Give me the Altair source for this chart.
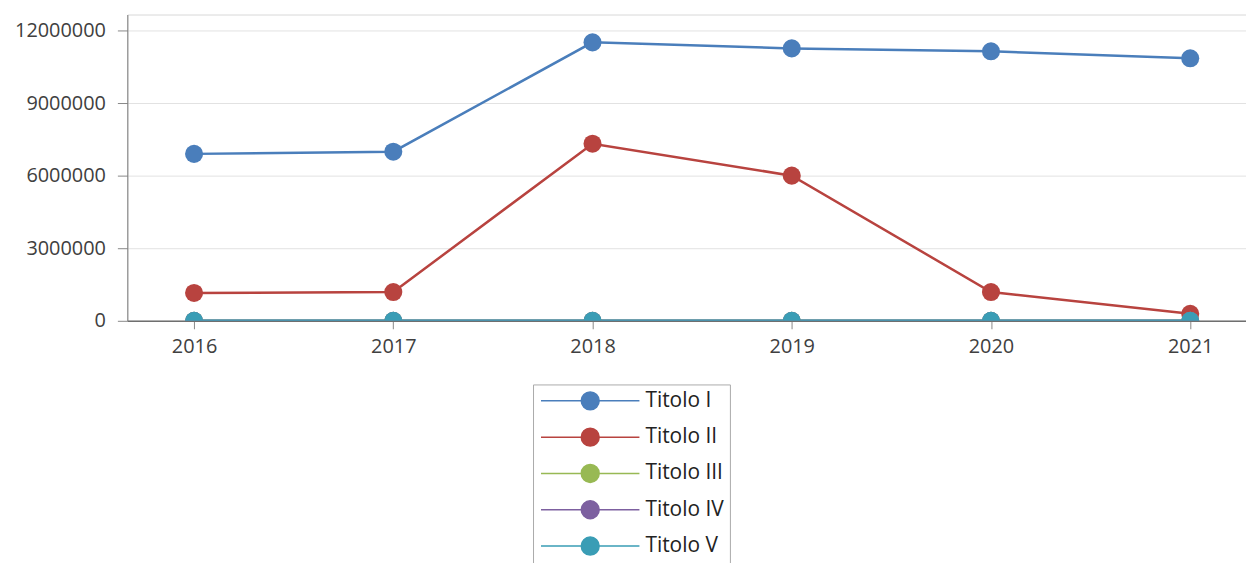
import altair as alt
import pandas as pd

years = [2016, 2017, 2018, 2019, 2020, 2021]
series = ["Titolo I", "Titolo II", "Titolo III", "Titolo IV", "Titolo V"]
titolo_1 = [6900000, 6990000, 11510000, 11260000, 11140000, 10850000]
titolo_2 = [1150000, 1190000, 7320000, 6000000, 1190000, 290000]
titolo_3 = [0, 0, 0, 0, 0, 0]
titolo_4 = [0, 0, 0, 0, 0, 0]
titolo_5 = [0, 0, 0, 0, 0, 0]
colors = ["#4a7ebb", "#b8433f", "#98b954", "#7d60a0", "#3a9db5"]
y_ticks = [0, 3000000, 6000000, 9000000, 12000000]

rows = []
for name, vals in zip(series, [titolo_1, titolo_2, titolo_3, titolo_4, titolo_5]):
    for yr, v in zip(years, vals):
        rows.append({"Anno": yr, "Serie": name, "Valore": v, "ord": series.index(name)})
df = pd.DataFrame(rows)

FONT = "Open Sans"
legend_path = "M-5.5,0L-1,0M1,0L5.5,0M-1,0A1,1,0,1,1,1,0A1,1,0,1,1,-1,0Z"

x = alt.X("Anno:Q", scale=alt.Scale(domain=[2015.665, 2021.28], nice=False, zero=False),
          axis=alt.Axis(values=years, format="d", title=None, grid=False,
                        labelFont=FONT, labelFontSize=20, labelColor="#404040",
                        tickSize=8, tickColor="#888", labelPadding=8,
                        domainColor="#6f6f6f", domainWidth=1.5))
y = alt.Y("Valore:Q", scale=alt.Scale(domain=[0, 12660000], nice=False),
          axis=alt.Axis(values=y_ticks, format="d", title=None, grid=True,
                        gridColor="#e2e2e2", labelFont=FONT, labelFontSize=20,
                        labelColor="#404040", tickSize=10, tickColor="#888",
                        labelPadding=12, domainColor="#7a7a7a", domainWidth=1))
color = alt.Color("Serie:N", scale=alt.Scale(domain=series, range=colors),
                  legend=alt.Legend(title=None, orient="none", legendX=408, legendY=372,
                                    direction="vertical", symbolType=legend_path,
                                    symbolSize=324, symbolStrokeWidth=1.5,
                                    symbolOffset=41, labelOffset=45,
                                    labelFont=FONT, labelFontSize=21, labelColor="#222",
                                    rowPadding=11.5, padding=6, strokeColor="#aaaaaa",
                                    fillColor="white", symbolOpacity=1))

lines = alt.Chart(df).mark_line(strokeWidth=2.5, clip=True).encode(
    x=x, y=y, color=color, detail="Serie:N", order="ord:Q")
points = alt.Chart(df).mark_circle(size=330, opacity=1, clip=True).encode(
    x=x, y=y, color=alt.Color("Serie:N", scale=alt.Scale(domain=series, range=colors), legend=None),
    order="ord:Q")

chart = alt.layer(lines, points).properties(
    width=1125, height=308,
    autosize=alt.AutoSizeParams(type="none"),
    padding={"left": 120, "top": 5, "right": 0, "bottom": 242},
).configure_view(stroke="#d8d8d8", strokeWidth=1)

chart.save("out.html", embed_options={"renderer": "svg", "actions": False})
